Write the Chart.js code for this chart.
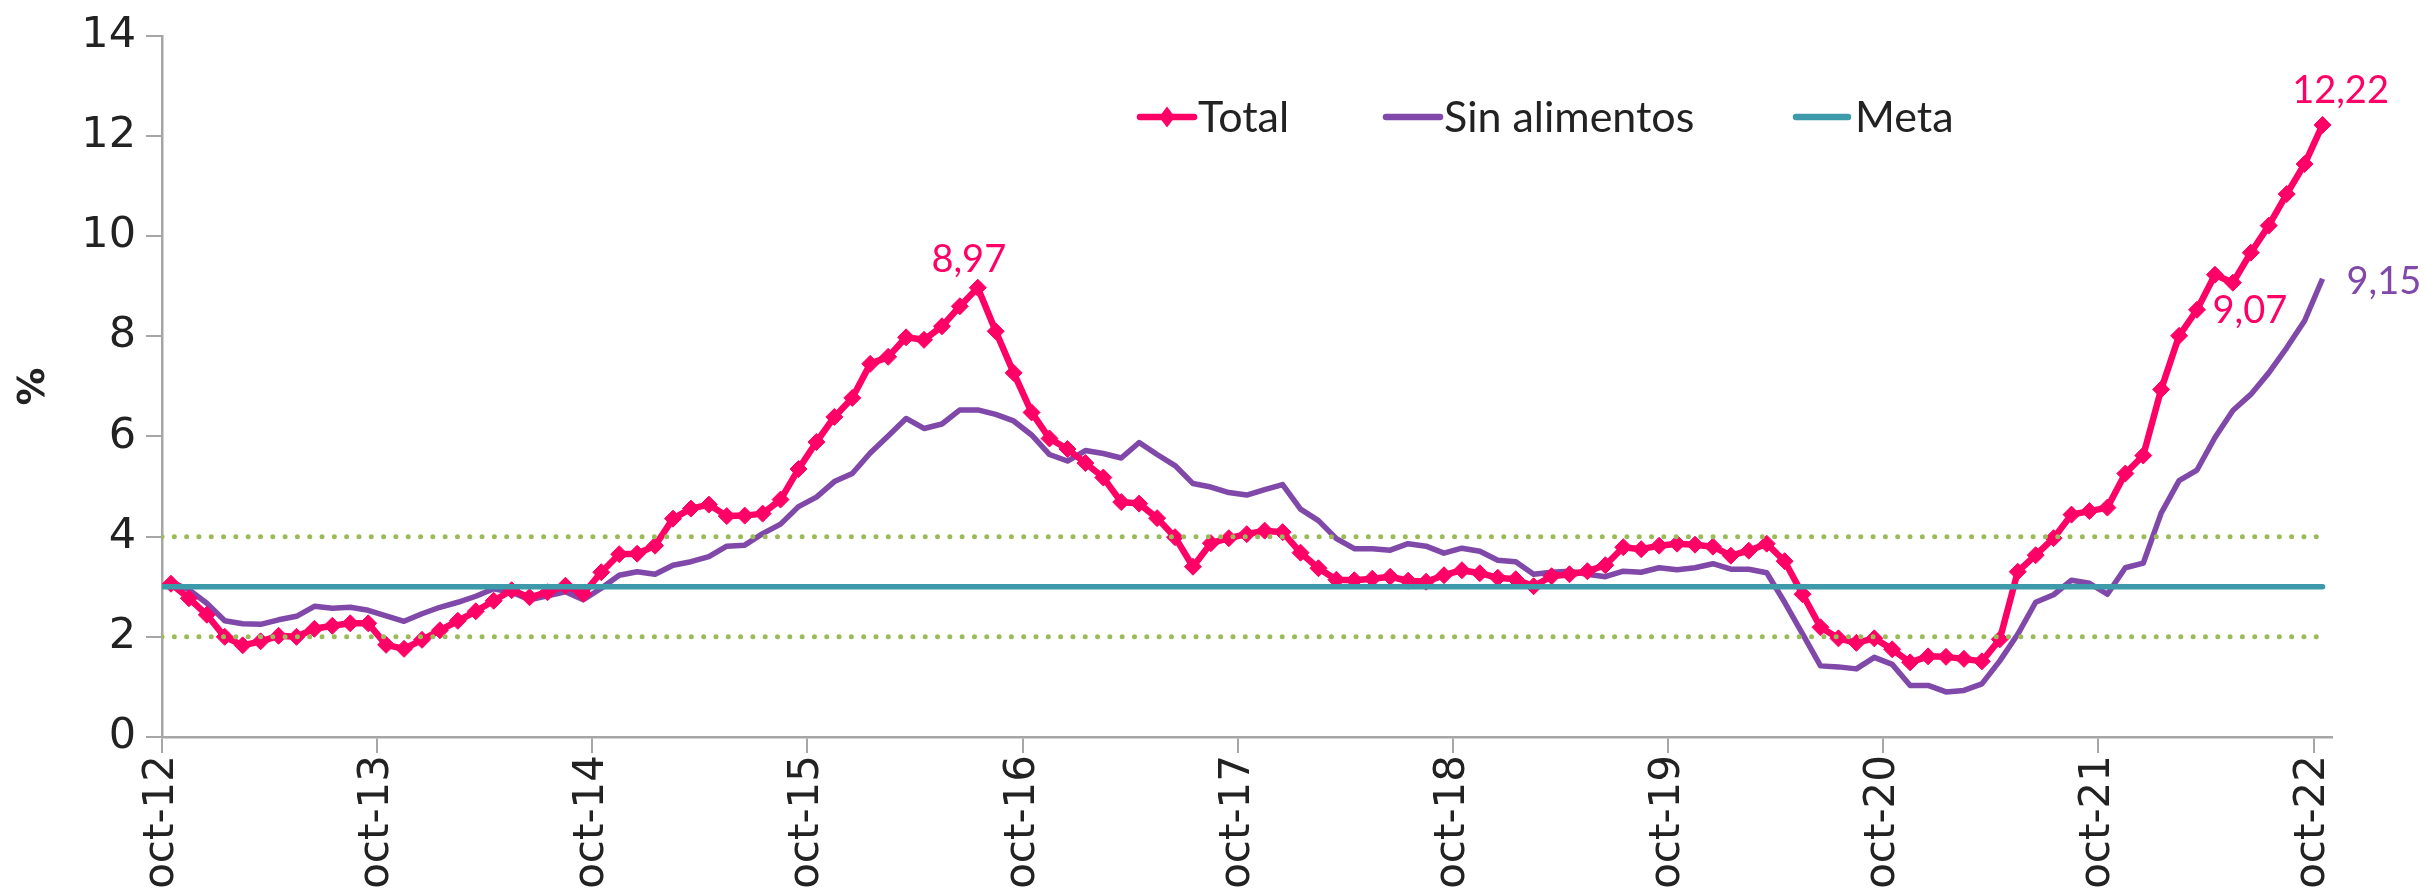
<!DOCTYPE html>
<html lang="es">
<head>
<meta charset="utf-8">
<title>Inflación</title>
<script src="https://cdn.jsdelivr.net/npm/chart.js@4.4.1/dist/chart.umd.min.js"></script>
<style>
html,body{margin:0;padding:0;background:#ffffff;overflow:hidden;}
#box{position:relative;width:2427px;height:893px;}
canvas{display:block;}
</style>
</head>
<body>
<div id="box"><canvas id="chart" width="2427" height="893"></canvas></div>
<script>
// ---------- data ----------
const xTickLabels = ['oct-12','oct-13','oct-14','oct-15','oct-16','oct-17','oct-18','oct-19','oct-20','oct-21','oct-22'];
const yTicks = [0, 2, 4, 6, 8, 10, 12, 14];
const seriesNames = ['Total', 'Sin alimentos', 'Meta'];

// monthly values, oct-12 .. oct-22
const total = [
  3.06, 2.77, 2.44,
  2.00, 1.83, 1.91, 2.02, 2.00, 2.16, 2.22, 2.27, 2.27, 1.84, 1.76, 1.94,
  2.13, 2.32, 2.51, 2.72, 2.93, 2.79, 2.89, 3.02, 2.86, 3.29, 3.65, 3.66,
  3.82, 4.36, 4.56, 4.64, 4.41, 4.42, 4.46, 4.74, 5.35, 5.89, 6.39, 6.77,
  7.45, 7.59, 7.98, 7.93, 8.20, 8.60, 8.97, 8.10, 7.27, 6.48, 5.96, 5.75,
  5.47, 5.18, 4.69, 4.66, 4.37, 3.99, 3.40, 3.87, 3.97, 4.05, 4.12, 4.09,
  3.68, 3.37, 3.14, 3.13, 3.16, 3.20, 3.12, 3.10, 3.23, 3.33, 3.27, 3.18,
  3.15, 3.01, 3.21, 3.25, 3.31, 3.43, 3.79, 3.75, 3.82, 3.86, 3.84, 3.80,
  3.62, 3.72, 3.86, 3.51, 2.85, 2.19, 1.97, 1.88, 1.97, 1.75, 1.49, 1.61,
  1.60, 1.56, 1.51, 1.95, 3.30, 3.63, 3.97, 4.44, 4.51, 4.58, 5.26, 5.62,
  6.94, 8.01, 8.53, 9.23, 9.07, 9.67, 10.21, 10.84, 11.44, 12.22
];
const sinAlimentos = [
  3.10, 2.94, 2.67,
  2.32, 2.26, 2.25, 2.34, 2.41, 2.61, 2.57, 2.59, 2.53, 2.42, 2.31, 2.46,
  2.59, 2.69, 2.81, 2.96, 2.89, 2.74, 2.82, 2.90, 2.74, 2.97, 3.23, 3.30,
  3.25, 3.43, 3.50, 3.60, 3.81, 3.83, 4.06, 4.25, 4.60, 4.79, 5.10, 5.26,
  5.67, 6.01, 6.36, 6.16, 6.25, 6.53, 6.53, 6.44, 6.31, 6.03, 5.64, 5.51,
  5.72, 5.66, 5.57, 5.88, 5.64, 5.42, 5.06, 4.99, 4.88, 4.83, 4.94, 5.04,
  4.55, 4.32, 3.96, 3.76, 3.76, 3.73, 3.86, 3.81, 3.67, 3.77, 3.71, 3.53,
  3.50, 3.25, 3.29, 3.31, 3.25, 3.20, 3.31, 3.29, 3.38, 3.34, 3.38, 3.46,
  3.35, 3.35, 3.28, 2.69, 2.06, 1.42, 1.40, 1.36, 1.59, 1.45, 1.03, 1.03,
  0.90, 0.93, 1.06, 1.52, 2.05, 2.69, 2.84, 3.13, 3.07, 2.85, 3.38, 3.47,
  4.47, 5.12, 5.33, 5.98, 6.52, 6.84, 7.27, 7.77, 8.31, 9.15
];
const meta = 3;
const rangoMeta = [2, 4];

// ---------- style ----------
const COLORS = {
  total: '#FF0066',
  sin: '#8048A8',
  meta: '#3C9AAA',
  band: '#9BBB59',
  axis: '#A6A6A6',
  text: '#222222'
};
const X_TICK_FONT = { family: "'DejaVu Sans', sans-serif", size: 42 };
const Y_TICK_FONT = { family: "'DejaVu Sans', sans-serif", size: 43 };
const LABEL_FAMILY = "Lato, 'Open Sans', sans-serif";

const N = total.length;
const xMin = -0.5, xMax = N - 0.5, xLast = N - 1;
const monthsPerTick = 12;
const toPoints = arr => arr.map((v, i) => ({ x: i, y: v }));
const fmt = v => v.toFixed(2).replace('.', ',');

// legend layout (inside plot)
const LEGEND = {
  y: 117,
  items: [
    { x: 1140, w: 54, tx: 1198, color: COLORS.total, marker: true },
    { x: 1386, w: 54, tx: 1444, color: COLORS.sin, marker: false },
    { x: 1796, w: 52, tx: 1855, color: COLORS.meta, marker: false }
  ]
};
// value labels
const pointLabels = [
  { ds: 'Total', index: 45, dx: -9, dy: -16, align: 'center' },
  { ds: 'Total', index: 115, dx: 17, dy: 40, align: 'center' },
  { ds: 'Total', index: 120, dx: 18, dy: -22, align: 'center' },
  { ds: 'Sin alimentos', index: 120, dx: 24, dy: 15, align: 'left' }
];

const legendPlugin = {
  id: 'insideLegend',
  afterDatasetsDraw(chart) {
    const ctx = chart.ctx;
    ctx.save();
    LEGEND.items.forEach((it, k) => {
      ctx.strokeStyle = it.color;
      ctx.lineWidth = 6.5;
      ctx.lineCap = 'round';
      ctx.beginPath();
      ctx.moveTo(it.x, LEGEND.y);
      ctx.lineTo(it.x + it.w, LEGEND.y);
      ctx.stroke();
      if (it.marker) {
        const cx = it.x + it.w / 2, r = 10.5;
        ctx.fillStyle = it.color;
        ctx.beginPath();
        ctx.moveTo(cx, LEGEND.y - r);
        ctx.lineTo(cx + r * 0.75, LEGEND.y);
        ctx.lineTo(cx, LEGEND.y + r);
        ctx.lineTo(cx - r * 0.75, LEGEND.y);
        ctx.closePath();
        ctx.fill();
      }
      ctx.fillStyle = COLORS.text;
      ctx.font = `43px ${LABEL_FAMILY}`;
      ctx.textAlign = 'left';
      ctx.textBaseline = 'alphabetic';
      ctx.fillText(seriesNames[k], it.tx, LEGEND.y + 15);
    });
    ctx.restore();
  }
};

const valueLabelPlugin = {
  id: 'valueLabels',
  afterDatasetsDraw(chart) {
    const ctx = chart.ctx;
    ctx.save();
    ctx.font = `38px ${LABEL_FAMILY}`;
    ctx.textBaseline = 'alphabetic';
    pointLabels.forEach(p => {
      const dsIndex = chart.data.datasets.findIndex(d => d.label === p.ds);
      const ds = chart.data.datasets[dsIndex];
      const el = chart.getDatasetMeta(dsIndex).data[p.index];
      ctx.fillStyle = ds.borderColor;
      ctx.textAlign = p.align;
      ctx.fillText(fmt(ds.data[p.index].y), el.x + p.dx, el.y + p.dy);
    });
    ctx.restore();
  }
};

new Chart(document.getElementById('chart'), {
  type: 'line',
  data: {
    datasets: [
      { label: 'rango-sup', data: [{ x: xMin, y: rangoMeta[1] }, { x: xLast, y: rangoMeta[1] }],
        borderColor: COLORS.band, borderWidth: 5, borderDash: [0.01, 12.3], borderCapStyle: 'round',
        pointRadius: 0, order: 0 },
      { label: 'rango-inf', data: [{ x: xMin, y: rangoMeta[0] }, { x: xLast, y: rangoMeta[0] }],
        borderColor: COLORS.band, borderWidth: 5, borderDash: [0.01, 12.3], borderCapStyle: 'round',
        pointRadius: 0, order: 0 },
      { label: seriesNames[2], data: [{ x: xMin, y: meta }, { x: xLast, y: meta }],
        borderColor: COLORS.meta, borderWidth: 5.5, borderCapStyle: 'round', pointRadius: 0, order: 1 },
      { label: seriesNames[0], data: toPoints(total),
        borderColor: COLORS.total, borderWidth: 6.5, borderJoinStyle: 'round',
        pointStyle: 'rectRot', pointRadius: 8.5, pointBorderWidth: 1,
        pointBackgroundColor: COLORS.total, pointBorderColor: COLORS.total, order: 2 },
      { label: seriesNames[1], data: toPoints(sinAlimentos),
        borderColor: COLORS.sin, borderWidth: 5.5, borderJoinStyle: 'round', pointRadius: 0, order: 3 }
    ]
  },
  options: {
    responsive: false,
    animation: false,
    devicePixelRatio: 1,
    layout: { padding: { left: 0, right: 95.5, top: 28.3, bottom: 0 } },
    plugins: { legend: { display: false }, tooltip: { enabled: false } },
    elements: { line: { tension: 0 } },
    scales: {
      x: {
        type: 'linear', min: xMin, max: xMax,
        afterBuildTicks: s => { s.ticks = xTickLabels.map((l, k) => ({ value: xMin + k * monthsPerTick })); },
        afterFit: s => { s.height = 156; },
        ticks: {
          callback: (v, i) => xTickLabels[i],
          minRotation: 90, maxRotation: 90, autoSkip: false, padding: 2,
          color: COLORS.text, font: X_TICK_FONT
        },
        grid: { drawOnChartArea: false, drawTicks: true, tickLength: 16, color: COLORS.axis, lineWidth: 2 },
        border: { display: true, color: COLORS.axis, width: 2.5 }
      },
      y: {
        min: 0, max: 14,
        afterBuildTicks: s => { s.ticks = yTicks.map(v => ({ value: v })); },
        afterFit: s => { s.width = 162; },
        ticks: { color: COLORS.text, font: Y_TICK_FONT, padding: 10 },
        grid: { drawOnChartArea: false, drawTicks: true, tickLength: 16, color: COLORS.axis, lineWidth: 2 },
        border: { display: true, color: COLORS.axis, width: 2.5 },
        title: { display: true, text: '%', color: COLORS.text,
                 font: { family: "'DejaVu Sans', sans-serif", size: 38, weight: 'bold' },
                 padding: { top: 11, bottom: 0 } }
      }
    }
  },
  plugins: [legendPlugin, valueLabelPlugin]
});
</script>
</body>
</html>
